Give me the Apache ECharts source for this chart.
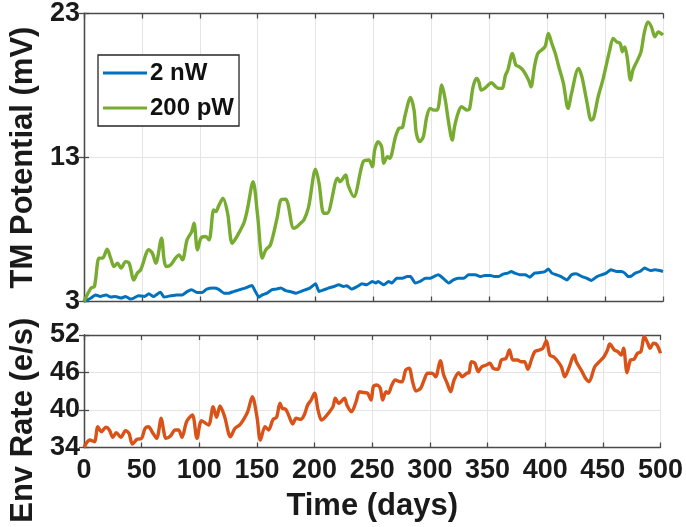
<!DOCTYPE html>
<html>
<head>
<meta charset="utf-8">
<script src="https://cdn.jsdelivr.net/npm/echarts@6/dist/echarts.min.js"></script>
<style>
  html, body { margin: 0; padding: 0; background: #fff; }
  #chart { width: 686px; height: 527px; }
</style>
</head>
<body>
<div id="chart"></div>
<script>
// Thermo-membrane potential at two laser powers, and environmental count rate
const seriesNames = ['2 nW', '200 pW', 'Env Rate'];

const greenDays = [0,6,9,13,16,20,23,26,29,32,36,39,43,46,49,56,59,62,67,69,71,75,79,82,85,89,93,95,98,101,105,108,112,114,116,120,124,128,132,138,141,146,150,154,157,161,167,170,174,176,181,184,187,190,194,200,203,207,210,219,221,226,228,233,241,246,249,251,254,257,259,262,264,269,272,275,277,282,285,287,290,293,296,299,302,305,309,312,315,318,320,323,326,331,333,336,339,341,343,346,349,352,355,358,361,364,366,370,373,376,379,384,386,389,392,398,401,404,407,410,414,418,421,427,430,434,438,440,444,448,454,457,460,463,465,467,469,472,474,478,481,484,487,490,493,496,500];
const greenMv = [3.0,3.93,4.04,6.01,6.01,6.63,6.01,5.43,5.66,5.32,5.77,5.66,4.5,4.97,5.2,6.59,6.36,5.66,7.4,6.01,5.43,5.55,6.01,6.24,5.89,7.28,7.85,8.44,6.59,7.4,7.51,7.28,9.36,9.24,9.59,10.17,9.13,7.05,7.51,8.44,9.36,11.32,8.9,6.01,6.59,6.93,8.9,10.05,10.1,9.82,8.09,8.2,8.44,8.67,9.59,12.18,11.21,9.13,9.13,11.56,11.32,11.79,11.09,10.28,12.7,12.83,12.36,13.52,14.1,13.75,12.6,13.06,12.95,14.44,15.03,15.09,15.83,17.17,16.29,14.68,14.1,14.44,15.83,16.4,16.29,16.29,18.03,16.99,15.37,14.21,15.14,16.07,16.52,16.29,16.4,17.91,18.49,18.26,17.68,17.8,18.03,18.19,17.96,17.8,17.8,18.72,19.07,20.23,19.41,19.3,19.07,18.37,17.91,19.3,20.23,20.68,21.61,20.92,20.23,19.3,18.15,16.41,17.45,19.19,18.6,16.99,15.6,15.72,17.22,18.37,20.46,21.27,21.03,20.92,20.34,20.68,19.99,18.37,19.07,19.76,20.34,21.72,22.42,22.07,21.38,21.72,21.5];

const blueDays = [0,6,10,14,19,23,27,32,36,40,43,47,52,56,60,66,69,75,80,85,89,93,98,102,106,112,116,121,125,129,134,139,145,148,151,154,158,162,166,170,174,178,183,187,191,195,200,203,207,211,216,220,224,227,231,236,240,244,249,252,254,259,263,266,270,275,279,282,286,290,295,299,302,306,310,315,319,323,328,332,338,342,346,351,355,358,362,366,369,372,377,381,385,389,394,398,401,404,408,412,417,421,425,430,434,438,443,447,451,455,460,464,467,470,473,476,480,484,489,493,497,500];
const blueMv = [3.0,3.24,3.46,3.35,3.46,3.31,3.35,3.24,3.35,3.17,3.24,3.4,3.35,3.53,3.35,3.65,3.31,3.4,3.46,3.46,3.69,3.81,3.62,3.62,3.86,3.93,3.86,3.58,3.58,3.69,3.81,3.93,4.11,3.69,3.3,3.46,3.58,3.81,3.86,3.93,3.76,3.69,3.58,3.69,3.81,3.93,4.23,3.69,3.81,3.93,4.04,4.16,4.04,4.09,3.86,4.04,4.23,4.16,4.39,4.28,4.39,4.16,4.39,4.28,4.62,4.62,4.73,4.73,4.28,4.39,4.62,4.62,4.73,4.85,4.62,4.28,4.5,4.62,4.62,4.85,4.85,4.73,4.8,4.8,4.73,4.73,4.9,4.97,5.08,4.97,4.85,4.85,4.69,4.97,5.01,5.08,5.25,4.97,4.85,4.73,4.5,4.85,4.92,4.73,4.62,4.46,4.73,4.85,4.97,5.2,5.08,5.08,4.97,4.73,4.78,4.97,5.08,5.32,5.15,5.2,5.15,5.08];

const envDays = [0,5,9,12,15,19,22,25,28,32,36,39,42,46,50,53,56,59,63,67,69,71,75,79,82,85,89,94,98,102,108,112,115,118,122,127,131,135,139,142,146,150,153,157,160,164,167,170,172,175,178,181,184,188,191,194,197,200,203,206,209,213,216,218,221,226,228,232,236,239,243,246,249,251,254,257,259,262,264,267,270,274,276,279,282,285,288,292,295,298,302,305,309,312,315,318,321,325,328,332,334,336,339,342,345,349,352,355,359,362,366,369,372,376,379,382,385,388,391,395,398,401,404,407,410,414,417,421,425,427,432,435,438,443,447,451,454,456,460,463,466,468,471,474,477,480,483,486,489,491,494,497,500];
const envRate = [34.0,35.2,34.93,37.33,36.53,37.23,36.8,35.63,36.37,35.63,36.69,36.27,34.56,35.31,35.47,37.07,37.33,36.53,35.47,38.67,36.8,35.47,35.84,36.8,36.8,35.63,38.13,39.2,35.47,38.29,37.6,40.53,38.83,40.64,38.93,35.73,37.07,37.6,38.67,39.73,42.13,38.93,35.2,37.33,36.8,38.51,38.83,41.07,40.27,40.11,38.93,37.76,38.67,38.51,39.2,40.8,41.6,42.67,40.0,38.4,38.83,39.73,40.53,41.87,41.07,41.87,40.8,39.73,41.33,42.93,42.77,42.67,41.6,43.73,44.0,43.47,41.6,42.93,42.67,44.0,44.8,44.53,44.53,46.4,46.67,44.53,43.04,43.47,44.8,45.87,45.87,45.33,47.89,45.6,44.27,42.93,44.8,45.97,45.33,45.87,46.0,47.73,47.47,46.13,46.93,47.2,47.47,46.67,46.51,48.0,48.27,49.6,48.0,48.0,47.73,47.73,46.51,48.0,49.33,49.6,49.87,51.09,48.8,48.53,48.0,46.93,45.33,46.93,48.8,47.73,46.13,45.07,44.53,46.93,47.73,48.53,49.6,50.56,49.6,49.33,48.8,49.87,45.97,48.0,48.11,49.07,49.33,51.73,50.67,49.87,50.67,50.4,49.07];

const xTicks = { min: 0, max: 500, step: 50 };
const topTicks = { min: 3, max: 23, step: 10 };
const bottomTicks = { min: 34, max: 52, step: 6 };

const pairs = (xs, ys) => xs.map((x, i) => [x, ys[i]]);

const FONT = "'Liberation Sans', Arial, sans-serif";
const AXIS_COLOR = '#4a4a4a';
const GRID_COLOR = '#e4e4e4';

function xAxisFor(gridIndex, position, labels, grid) {
  return {
    type: 'value', gridIndex, position,
    min: xTicks.min, max: xTicks.max, interval: xTicks.step,
    axisLine: { show: true, lineStyle: { color: AXIS_COLOR, width: 1.3 } },
    axisTick: { show: true, inside: true, length: 5, lineStyle: { color: AXIS_COLOR, width: 1.3 } },
    axisLabel: labels ? { show: true, color: '#1a1a1a', fontFamily: FONT, fontWeight: 'bold', fontSize: 27, margin: 10 } : { show: false },
    splitLine: { show: grid, lineStyle: { color: GRID_COLOR, width: 1 } }
  };
}

function yAxisFor(gridIndex, position, ticks, labels, grid, name, namePad) {
  const ax = {
    type: 'value', gridIndex, position,
    min: ticks.min, max: ticks.max, interval: ticks.step,
    axisLine: { show: true, lineStyle: { color: AXIS_COLOR, width: 1.3 } },
    axisTick: { show: true, inside: true, length: 5, lineStyle: { color: AXIS_COLOR, width: 1.3 } },
    axisLabel: labels ? { show: true, color: '#1a1a1a', fontFamily: FONT, fontWeight: 'bold', fontSize: 27, margin: 4 } : { show: false },
    splitLine: { show: grid, lineStyle: { color: GRID_COLOR, width: 1 } }
  };
  if (name) {
    ax.name = name;
    ax.nameLocation = 'middle';
    ax.nameGap = 43;
    ax.nameTextStyle = { color: '#1a1a1a', fontFamily: FONT, fontWeight: 'bold', fontSize: 31, padding: namePad || 0 };
  }
  return ax;
}

const chart = echarts.init(document.getElementById('chart'), null, { renderer: 'canvas' });

chart.setOption({
  backgroundColor: '#ffffff',
  animation: false,
  grid: [
    { left: 84, right: 23, top: 13.5, height: 288 },
    { left: 84, right: 23, top: 335, height: 112.5 }
  ],
  legend: {
    data: [seriesNames[0], seriesNames[1]],
    orient: 'vertical',
    left: 98, top: 55,
    icon: 'rect',
    itemWidth: 44, itemHeight: 3, itemGap: 11,
    padding: [6, 5, 6, 5],
    borderColor: '#262626', borderWidth: 1.3,
    backgroundColor: '#ffffff',
    textStyle: { color: '#111', fontFamily: FONT, fontWeight: 'bold', fontSize: 24, padding: [0, 0, 0, -2] }
  },
  xAxis: [
    xAxisFor(0, 'bottom', false, true),
    xAxisFor(0, 'top', false, false),
    Object.assign(xAxisFor(1, 'bottom', true, true), {
      name: 'Time (days)', nameLocation: 'middle', nameGap: 43,
      nameTextStyle: { color: '#1a1a1a', fontFamily: FONT, fontWeight: 'bold', fontSize: 31 }
    }),
    xAxisFor(1, 'top', false, false)
  ],
  yAxis: [
    yAxisFor(0, 'left', topTicks, true, true, 'TM Potential (mV)'),
    yAxisFor(0, 'right', topTicks, false, false),
    yAxisFor(1, 'left', bottomTicks, true, true, 'Env Rate (e/s)', [0, 58, 0, 0]),
    yAxisFor(1, 'right', bottomTicks, false, false)
  ],
  series: [
    {
      name: seriesNames[0], type: 'line', xAxisIndex: 0, yAxisIndex: 0,
      data: pairs(blueDays, blueMv), symbol: 'none', smooth: 0.15, z: 3,
      lineStyle: { color: '#0072BD', width: 3 }, itemStyle: { color: '#0072BD' }
    },
    {
      name: seriesNames[1], type: 'line', xAxisIndex: 0, yAxisIndex: 0,
      data: pairs(greenDays, greenMv), symbol: 'none', smooth: 0.3, z: 4,
      lineStyle: { color: '#77AC30', width: 3.4 }, itemStyle: { color: '#77AC30' }
    },
    {
      name: seriesNames[2], type: 'line', xAxisIndex: 2, yAxisIndex: 2,
      data: pairs(envDays, envRate), symbol: 'none', smooth: 0.3,
      lineStyle: { color: '#D95319', width: 3.4 }, itemStyle: { color: '#D95319' }
    }
  ]
});
</script>
</body>
</html>
